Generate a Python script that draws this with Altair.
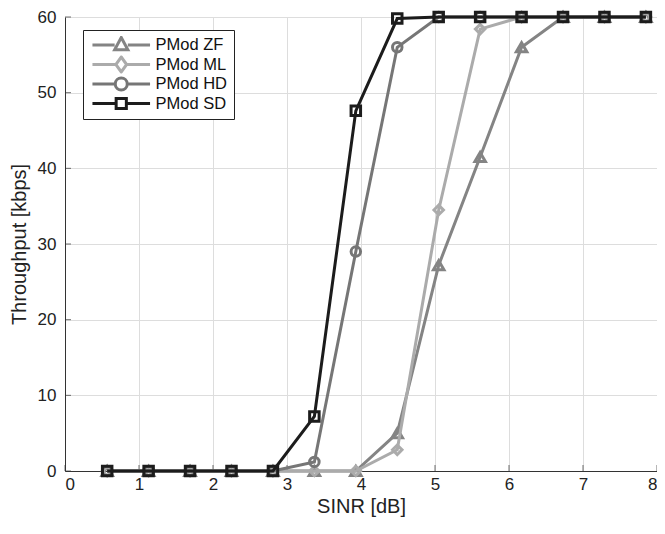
import altair as alt
import pandas as pd

# ---- data ----
sinr = [0.57, 1.13, 1.69, 2.25, 2.81, 3.37, 3.93, 4.49, 5.05, 5.61, 6.17, 6.73, 7.29, 7.85]
zf = [0, 0, 0, 0, 0, 0, 0, 5.0, 27.2, 41.5, 56.0, 60, 60, 60]
ml = [0, 0, 0, 0, 0, 0, 0, 2.8, 34.5, 58.4, 60, 60, 60, 60]
hd = [0, 0, 0, 0, 0, 1.2, 29.0, 56.0, 60, 60, 60, 60, 60, 60]
sd = [0, 0, 0, 0, 0, 7.2, 47.6, 59.8, 60, 60, 60, 60, 60, 60]
series_names = ["PMod ZF", "PMod ML", "PMod HD", "PMod SD"]
series_values = [zf, ml, hd, sd]
x_ticks = [0, 1, 2, 3, 4, 5, 6, 7, 8]
y_ticks = [0, 10, 20, 30, 40, 50, 60]

# ---- styles ----
colors = ["#848484", "#ababab", "#767676", "#1c1c1c"]
shapes = ["triangle-up", "diamond", "circle", "square"]
# legend glyphs: line + marker, unit = 6 px (symbolSize 144);
# trailing move-to widens the legend box like the reference
legend_paths = [
    "M-4.8,0H-1.1M1.1,0H4.8M0,-1.25L1.1,0.8L-1.1,0.8ZM19.3,0",
    "M-4.8,0H-0.9M0.9,0H4.8M0,-1.25L0.9,0L0,1.25L-0.9,0ZM19.3,0",
    "M-4.8,0H-1M1,0H4.8M1,0C1,-1.33,-1,-1.33,-1,0C-1,1.33,1,1.33,1,0ZM19.3,0",
    "M-4.8,0H-0.85M0.85,0H4.8M-0.85,-0.85H0.85V0.85H-0.85ZM19.3,0",
]
FONT = "Liberation Sans"
W, H = 592, 454

rows = []
for name, vals in zip(series_names, series_values):
    for x, y in zip(sinr, vals):
        rows.append({"sinr": x, "thr": y, "series": name})
df = pd.DataFrame(rows)

xs = alt.Scale(domain=[0, 8], nice=False)
ys = alt.Scale(domain=[0, 60], nice=False)
X = alt.X("sinr:Q", scale=xs, title="SINR [dB]",
          axis=alt.Axis(values=x_ticks, format="d", ticks=False, labelPadding=5,
                        titlePadding=4))
Y = alt.Y("thr:Q", scale=ys, title="Throughput [kbps]",
          axis=alt.Axis(values=y_ticks, format="d", ticks=False, labelPadding=9,
                        titlePadding=8))

layers = []

# inward ticks
xt = pd.DataFrame({"v": x_ticks})
yt = pd.DataFrame({"v": y_ticks})
layers.append(alt.Chart(xt).mark_tick(orient="vertical", size=6, thickness=1,
                                      color="#333333").encode(
    x=alt.X("v:Q", scale=xs), y=alt.value(H - 3)))
layers.append(alt.Chart(yt).mark_tick(orient="horizontal", size=6, thickness=1,
                                      color="#333333").encode(
    y=alt.Y("v:Q", scale=ys), x=alt.value(3)))

for name, c, s in zip(series_names, colors, shapes):
    sub = df[df.series == name]
    base = alt.Chart(sub)
    layers.append(base.mark_line(color=c, strokeWidth=3).encode(x=X, y=Y))
    layers.append(base.mark_point(shape=s, filled=False, color=c, strokeWidth=3,
                                  size=110 if s == "triangle-up" else 90,
                                  opacity=1).encode(x=X, y=Y))

leg = alt.Legend(title=None, orient="none", legendX=18, legendY=13,
                 symbolSize=144, symbolStrokeWidth=3, symbolOffset=24,
                 labelFont=FONT, labelFontSize=16.5, labelColor="#111111",
                 labelOffset=26, padding=6, rowPadding=1.5, clipHeight=18,
                 strokeColor="#222222", fillColor="white", cornerRadius=0)
legend_layer = alt.Chart(df).mark_point(filled=False, strokeWidth=3, opacity=1).encode(
    x=X, y=Y,
    color=alt.Color("series:N", scale=alt.Scale(domain=series_names, range=colors),
                    legend=leg),
    shape=alt.Shape("series:N", scale=alt.Scale(domain=series_names, range=legend_paths),
                    legend=leg),
).transform_filter("false")
layers.append(legend_layer)

chart = alt.layer(*layers).properties(
    width=W, height=H,
    autosize=alt.AutoSizeParams(type="none"),
    padding={"left": 57, "top": 9, "right": 0, "bottom": 47},
    background="white",
).configure_view(stroke=None).configure_axis(
    labelFont=FONT, labelFontSize=17, labelColor="#222222",
    titleFont=FONT, titleFontSize=20, titleColor="#222222", titleFontWeight="normal",
    gridColor="#dddddd", gridWidth=1, domainColor="#333333", domainWidth=1,
)

chart.save("out.html", embed_options={"renderer": "svg", "actions": False})
